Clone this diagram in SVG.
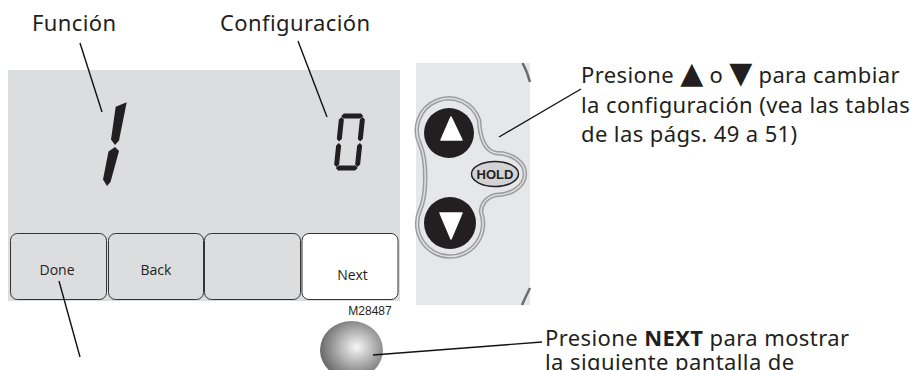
<svg xmlns="http://www.w3.org/2000/svg" width="915" height="370" viewBox="0 0 915 370">
<defs>
<style>
.lbl{font-family:"Noto Sans","Liberation Sans",sans-serif;font-size:22px;letter-spacing:0.4px;fill:#231f20}
.sym{font-family:"DejaVu Sans",sans-serif;font-size:30px;letter-spacing:0}
.btn{font-family:"Open Sans","Liberation Sans",sans-serif;font-size:14px;fill:#231f20;text-anchor:middle}
.key{stroke:#333;stroke-width:1;fill:#dcdddf}
.seg{fill:#231f20}
.lead{stroke:#111;stroke-width:1.4;fill:none}
</style>
<radialGradient id="ball" cx="0.58" cy="0.45" r="0.6">
<stop offset="0" stop-color="#f7f7f7"/>
<stop offset="0.55" stop-color="#a6a6a6"/>
<stop offset="1" stop-color="#666"/>
</radialGradient>
</defs>
<rect width="915" height="370" fill="#fff"/>

<g id="lcd">
<rect x="8" y="70" width="392" height="231" fill="#dcdddf"/>
<g id="digit1">
<polygon class="seg" points="115.7,106.7 126.7,102.3 119,140.5 115,145 111,139.5"/>
<polygon class="seg" points="115,147 119,151 110.5,182 107,186 103,179.5 108.5,151.5"/>
</g>
<g id="digit0" transform="translate(339.5,113.5) skewX(-6)">
<path class="seg" d="M2,2.5 L4.5,0 L21.5,0 L24,2.5 L21.5,5 L4.5,5Z"/>
<path class="seg" d="M23.5,3.5 L26,6 L26,25.5 L23.5,28 L21,25.5 L21,6Z"/>
<path class="seg" d="M23.5,29.5 L26,32 L26,51 L23.5,53.5 L21,51 L21,32Z"/>
<path class="seg" d="M2,54.5 L4.5,52 L21.5,52 L24,54.5 L21.5,57 L4.5,57Z"/>
<path class="seg" d="M2.5,3.5 L5,6 L5,25.5 L2.5,28 L0,25.5 L0,6Z"/>
<path class="seg" d="M2.5,29.5 L5,32 L5,51 L2.5,53.5 L0,51 L0,32Z"/>
</g>
</g>

<g id="btn-done"><rect class="key" x="10.5" y="233.5" width="96" height="66" rx="7"/><text class="btn" x="57" y="275">Done</text></g>
<g id="btn-back"><rect class="key" x="108.5" y="233.5" width="95" height="66" rx="7"/><text class="btn" x="156" y="275">Back</text></g>
<g id="btn-blank"><rect class="key" x="204.5" y="233.5" width="96" height="66" rx="7"/></g>
<g id="btn-next"><rect class="key" x="302" y="233.5" width="96" height="66" rx="7" style="fill:#fff"/><text class="btn" x="352.5" y="280">Next</text></g>

<g id="model"><text x="370" y="315" font-family="Liberation Sans,Arial,sans-serif" font-size="12" fill="#231f20" text-anchor="middle">M28487</text></g>

<g id="keypad">
<rect x="416" y="63" width="114" height="242" fill="#e6e7e8"/>
<path d="M522.5,63 Q527,71 530,82" stroke="#6d6d6d" stroke-width="2.5" fill="none"/>
<path d="M522,305 Q526,296 530,288" stroke="#6d6d6d" stroke-width="2.5" fill="none"/>
<path d="M420,144.5 A32,32 0 1 1 479,120 C480,138 485,151 496,153 A29,21 0 0 1 496,195 C486,197 481,205 481,212 A33,33 0 1 1 420,210 C427,195 427,160 420,144.5Z" fill="none" stroke="#9d9d9d" stroke-width="4.5"/>
<path d="M420,144.5 A32,32 0 1 1 479,120 C480,138 485,151 496,153 A29,21 0 0 1 496,195 C486,197 481,205 481,212 A33,33 0 1 1 420,210 C427,195 427,160 420,144.5Z" fill="none" stroke="#dedfe0" stroke-width="1.5"/>
<g id="btn-up"><circle cx="449" cy="133" r="25" fill="#231f20"/><polygon points="451,117 441,140 462,140" fill="#fff" stroke="#fff" stroke-width="1.5" stroke-linejoin="round"/></g>
<g id="btn-down"><circle cx="450" cy="223" r="26" fill="#231f20"/><polygon points="440,213 462,213 451,239" fill="#fff" stroke="#fff" stroke-width="1.5" stroke-linejoin="round"/></g>
<g id="btn-hold"><ellipse cx="495" cy="174" rx="23.5" ry="12.5" fill="#d2d3d5" stroke="#231f20" stroke-width="1.5"/><text x="495" y="178.5" font-family="Liberation Sans,Arial,sans-serif" font-size="13" font-weight="bold" fill="#231f20" text-anchor="middle">HOLD</text></g>
</g>

<g id="ball-btn"><ellipse cx="351.5" cy="350" rx="31.5" ry="29" fill="url(#ball)"/></g>

<g id="labels">
<text class="lbl" x="32" y="31">Función</text>
<text class="lbl" x="220" y="31">Configuración</text>
<text class="lbl" x="581" y="83">Presione <tspan class="sym">▲</tspan> o <tspan class="sym">▼</tspan> para cambiar</text>
<text class="lbl" x="581" y="113">la configuración (vea las tablas</text>
<text class="lbl" x="581" y="142">de las págs. 49 a 51)</text>
<text class="lbl" x="545" y="346">Presione <tspan font-weight="bold">NEXT</tspan> para mostrar</text>
<text class="lbl" x="545" y="370">la siguiente pantalla de</text>
</g>

<g id="connectors">
<line class="lead" x1="80" y1="43" x2="102" y2="112"/>
<line class="lead" x1="298" y1="41" x2="327" y2="117"/>
<line class="lead" x1="59" y1="281" x2="80" y2="357"/>
<line class="lead" x1="499" y1="137" x2="581" y2="89"/>
<line class="lead" x1="373" y1="355" x2="542" y2="342"/>
</g>
</svg>
